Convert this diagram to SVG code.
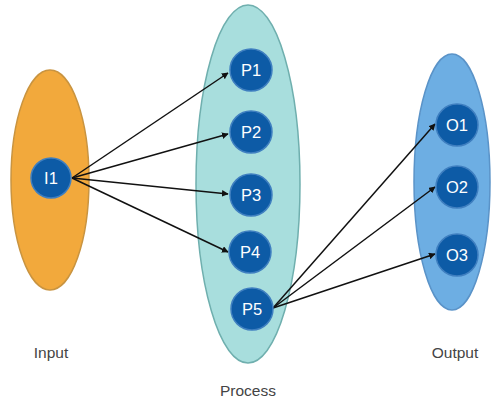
<svg xmlns="http://www.w3.org/2000/svg" width="495" height="402" viewBox="0 0 495 402">
<style>
.node circle{fill:#0D5BA6;stroke:#3F7FC0;stroke-width:1.5}
.node text{fill:#ffffff;font-family:"Liberation Sans",Arial,sans-serif;font-size:16.5px;text-anchor:middle;dominant-baseline:central}
.lbl{fill:#444444;font-family:"Liberation Sans",Arial,sans-serif;font-size:15.5px;text-anchor:middle}
.conn line{stroke:#111111;stroke-width:1.5;marker-end:url(#ah)}
</style>
<defs>
<marker id="ah" viewBox="0 0 10 10" refX="9" refY="5" markerWidth="4.5" markerHeight="4.5" orient="auto" markerUnits="strokeWidth">
<path d="M0,0 L10,5 L0,10 z" fill="#111111"/>
</marker>
</defs>
<rect width="495" height="402" fill="#ffffff"/>
<g id="group-input">
<ellipse cx="50" cy="180" rx="39" ry="110" fill="#F2A93C" stroke="#C99440" stroke-width="1.5"/>
<text class="lbl" x="51" y="358">Input</text>
</g>
<g id="group-process">
<ellipse cx="248" cy="184" rx="52" ry="179" fill="#A8DEDD" stroke="#6FAFAE" stroke-width="1.5"/>
<text class="lbl" x="248" y="396">Process</text>
</g>
<g id="group-output">
<ellipse cx="452" cy="182" rx="38" ry="128" fill="#6DAEE3" stroke="#5A93C8" stroke-width="1.5"/>
<text class="lbl" x="455" y="358">Output</text>
</g>
<g id="connectors" class="conn">
<line x1="72" y1="178" x2="228" y2="73"/>
<line x1="72" y1="178" x2="228" y2="134"/>
<line x1="72" y1="178" x2="228" y2="194"/>
<line x1="72" y1="178" x2="228" y2="252"/>
<line x1="273" y1="308" x2="435" y2="124"/>
<line x1="273" y1="308" x2="435" y2="187"/>
<line x1="273" y1="308" x2="435" y2="254"/>
</g>
<g id="I1" class="node"><circle cx="51" cy="178" r="20"/><text x="51" y="178">I1</text></g>
<g id="P1" class="node"><circle cx="251" cy="70" r="21"/><text x="251" y="70">P1</text></g>
<g id="P2" class="node"><circle cx="251" cy="132" r="21"/><text x="251" y="132">P2</text></g>
<g id="P3" class="node"><circle cx="251" cy="195" r="21"/><text x="251" y="195">P3</text></g>
<g id="P4" class="node"><circle cx="250" cy="252" r="21"/><text x="250" y="252">P4</text></g>
<g id="P5" class="node"><circle cx="252" cy="309" r="21"/><text x="252" y="309">P5</text></g>
<g id="O1" class="node"><circle cx="457" cy="125" r="21"/><text x="457" y="125">O1</text></g>
<g id="O2" class="node"><circle cx="457" cy="187" r="21"/><text x="457" y="187">O2</text></g>
<g id="O3" class="node"><circle cx="457" cy="255" r="21"/><text x="457" y="255">O3</text></g>
</svg>
